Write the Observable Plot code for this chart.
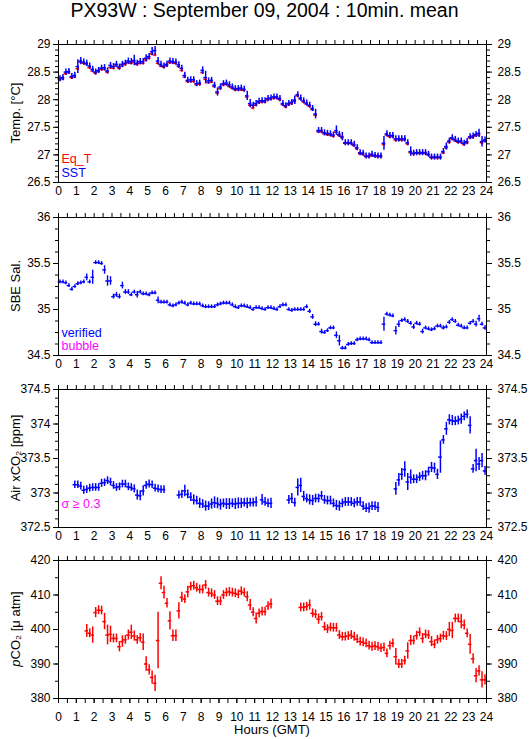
<!DOCTYPE html>
<html><head><meta charset="utf-8">
<script src="https://cdn.jsdelivr.net/npm/d3@7"></script>
<script src="https://cdn.jsdelivr.net/npm/@observablehq/plot@0.6"></script>
<style>
body{margin:0;background:#fff;}
#wrap{position:relative;width:529px;height:739px;overflow:hidden;font-family:"Liberation Sans",Arial,Helvetica,sans-serif;}
#title{position:absolute;left:0;top:-1px;width:529px;text-align:center;font-size:19.5px;line-height:22px;color:#000;}
</style></head>
<body><div id="wrap"><div id="title">PX93W : September 09, 2004 : 10min. mean</div></div>
<script>
// 10-minute slots over the day (slot centres, hours GMT)
const hours = Array.from({length: 144}, (_, i) => (i + 0.5) / 6);
const hourTicks = d3.range(0, 25);
const halfHourTicks = d3.range(0, 24.01, 0.5);

// Panel 1: temperatures
const sst = [
28.38,28.40,28.50,28.51,28.42,28.44,28.60,28.70,28.68,28.66,
28.61,28.55,28.50,28.53,28.57,28.58,28.52,28.62,28.60,28.64,
28.59,28.64,28.66,28.70,28.69,28.71,28.66,28.69,28.69,28.75,
28.78,28.87,28.89,28.70,28.64,28.61,28.64,28.70,28.69,28.68,
28.63,28.57,28.44,28.35,28.36,28.36,28.29,28.30,28.53,28.40,
28.34,28.35,28.26,28.14,28.23,28.29,28.30,28.27,28.23,28.20,
28.20,28.21,28.19,28.07,27.93,27.90,27.93,27.97,27.98,27.98,
28.02,28.03,28.05,28.05,28.02,27.93,27.89,27.93,27.95,27.99,
28.09,28.03,27.98,27.94,27.90,27.84,27.74,27.44,27.44,27.40,
27.39,27.38,27.36,27.44,27.37,27.33,27.22,27.22,27.22,27.19,
27.13,27.04,27.03,26.98,26.98,27.01,26.99,26.98,26.98,27.21,
27.38,27.35,27.35,27.29,27.29,27.29,27.29,27.22,27.06,27.03,
27.04,27.04,27.04,27.04,27.01,26.96,26.96,26.96,26.96,27.06,
27.15,27.25,27.31,27.28,27.25,27.25,27.21,27.24,27.33,27.34,
27.37,27.39,27.24,27.27];
const sstSd = [
.01,.01,.01,.01,.01,.01,.08,.02,.01,.01,
.01,.01,.01,.01,.01,.01,.01,.01,.01,.01,
.01,.01,.01,.01,.01,.05,.01,.01,.01,.02,
.01,.03,.03,.02,.01,.01,.01,.01,.01,.01,
.01,.01,.01,.01,.01,.01,.01,.01,.02,.07,
.01,.01,.01,.03,.01,.01,.01,.01,.01,.01,
.01,.01,.01,.04,.03,.01,.01,.01,.01,.01,
.01,.01,.01,.01,.01,.01,.01,.01,.01,.03,
.01,.01,.01,.01,.01,.01,.04,.01,.01,.01,
.01,.01,.01,.04,.01,.03,.01,.01,.01,.01,
.01,.01,.01,.01,.01,.01,.01,.01,.01,.08,
.01,.01,.01,.01,.01,.01,.01,.01,.04,.01,
.01,.01,.01,.01,.01,.01,.01,.01,.01,.01,
.02,.01,.01,.01,.01,.01,.01,.01,.01,.01,
.01,.03,.05,.01];
const eqT = [
28.36,28.38,28.47,28.49,28.40,28.41,28.56,28.68,28.66,28.64,
28.58,28.52,28.48,28.51,28.55,28.55,28.50,28.58,28.57,28.61,
28.57,28.61,28.64,28.67,28.66,28.68,28.64,28.66,28.66,28.72,
28.75,28.83,28.81,28.66,28.61,28.59,28.62,28.67,28.67,28.66,
28.60,28.53,28.41,28.33,28.33,28.33,28.27,28.28,28.49,28.37,
28.31,28.32,28.24,28.12,28.20,28.27,28.28,28.24,28.21,28.18,
28.18,28.18,28.17,28.05,27.90,27.85,27.90,27.95,27.96,27.96,
28.00,28.01,28.03,28.03,28.00,27.91,27.87,27.91,27.93,27.97,
28.07,28.01,27.96,27.92,27.88,27.82,27.72,27.42,27.42,27.38,
27.37,27.36,27.34,27.41,27.35,27.31,27.21,27.21,27.21,27.17,
27.11,27.02,27.01,26.97,26.97,26.99,26.98,26.97,26.97,27.19,
27.36,27.33,27.33,27.27,27.27,27.27,27.27,27.20,27.04,27.02,
27.03,27.03,27.03,27.03,27.00,26.95,26.95,26.95,26.95,27.04,
27.13,27.23,27.29,27.26,27.23,27.23,27.19,27.22,27.31,27.32,
27.35,27.36,27.22,27.25];

// Panel 2: SBE salinity
const sal = [
35.30,35.30,35.29,35.26,35.22,35.25,35.28,35.29,35.30,35.35,
35.30,35.35,35.51,35.51,35.50,35.43,35.31,35.31,35.14,35.16,
35.14,35.26,35.19,35.19,35.16,35.19,35.16,35.19,35.17,35.17,
35.16,35.18,35.18,35.10,35.08,35.08,35.08,35.05,35.04,35.05,
35.07,35.08,35.07,35.05,35.07,35.06,35.06,35.06,35.04,35.03,
35.03,35.03,35.03,35.05,35.06,35.07,35.07,35.07,35.05,35.03,
35.02,35.04,35.04,35.03,35.02,35.00,35.02,35.02,35.01,35.00,
35.02,35.02,35.01,35.00,35.03,35.05,35.05,35.00,34.99,35.00,
35.00,35.00,35.00,35.03,34.98,34.92,34.84,34.84,34.76,34.75,
34.77,34.80,34.80,34.72,34.66,34.58,34.58,34.62,34.63,34.63,
34.67,34.68,34.68,34.68,34.67,34.64,34.64,34.64,34.64,34.84,
34.95,34.94,34.93,34.77,34.84,34.88,34.89,34.87,34.85,34.81,
34.85,34.84,34.76,34.80,34.79,34.78,34.79,34.82,34.82,34.80,
34.81,34.86,34.89,34.87,34.83,34.82,34.80,34.80,34.85,34.87,
34.84,34.90,34.84,34.80];
const salSd = [
.004,.004,.004,.004,.006,.004,.004,.004,.004,.02,
.004,.06,.004,.004,.004,.03,.04,.03,.01,.01,
.01,.02,.01,.01,.004,.004,.02,.004,.004,.004,
.004,.004,.004,.02,.004,.004,.004,.004,.004,.004,
.004,.004,.004,.004,.004,.004,.004,.004,.004,.004,
.004,.004,.004,.004,.004,.004,.004,.004,.004,.004,
.004,.004,.004,.004,.004,.004,.004,.004,.004,.004,
.004,.004,.004,.004,.004,.004,.004,.004,.004,.004,
.004,.004,.004,.004,.006,.01,.01,.004,.01,.004,
.004,.004,.004,.02,.04,.004,.004,.004,.004,.004,
.004,.004,.004,.004,.004,.004,.004,.004,.004,.06,
.004,.004,.004,.03,.02,.004,.004,.004,.004,.01,
.004,.004,.01,.004,.004,.004,.004,.004,.004,.006,
.004,.004,.004,.004,.004,.004,.004,.004,.004,.004,
.015,.02,.004,.01];

// Panel 3: atmospheric xCO2 (null = no measurement)
const xco2 = [
null,null,null,null,null,373.12,373.12,373.10,373.04,373.05,
373.07,373.08,373.08,373.08,373.14,373.15,373.18,373.16,373.11,373.08,
373.09,373.13,373.13,373.09,373.08,373.06,372.97,372.96,373.03,373.11,
373.13,373.12,373.07,373.06,373.05,373.05,null,null,null,null,
372.97,372.98,373.03,372.98,372.94,372.90,372.89,372.85,372.84,372.81,
372.81,372.84,372.86,372.85,372.83,372.85,372.84,372.84,372.85,372.84,
372.85,372.85,372.86,372.85,372.86,372.86,372.87,null,372.90,372.87,
372.85,372.85,null,null,null,null,null,372.90,372.92,372.86,
373.08,373.11,372.95,372.92,372.90,372.89,372.92,372.92,372.96,372.90,
372.89,372.89,372.85,372.82,372.81,372.85,372.87,372.87,372.87,372.85,
372.87,372.87,372.81,372.78,372.78,372.81,372.81,372.79,null,null,
null,null,null,373.06,373.19,373.27,373.34,373.16,373.23,373.20,
373.20,373.23,373.25,373.25,373.31,373.37,373.36,373.27,373.52,373.77,
373.93,374.06,374.05,374.04,374.05,374.07,374.11,374.14,373.98,373.35,
373.47,373.42,373.47,373.32];
const xco2Sd = [
0,0,0,0,0,.012,.012,.012,.015,.012,
.012,.012,.012,.012,.015,.012,.012,.012,.012,.012,
.012,.012,.012,.012,.012,.015,.03,.03,.03,.012,
.015,.012,.012,.012,.012,.012,0,0,0,0,
.015,.015,.04,.02,.02,.03,.02,.03,.02,.03,
.02,.03,.04,.035,.035,.02,.035,.035,.02,.035,
.035,.03,.02,.035,.02,.02,.03,0,.035,.02,
.02,.03,0,0,0,0,0,.02,.03,.02,
.08,.06,.03,.02,.03,.03,.02,.02,.02,.02,
.02,.02,.02,.03,.03,.02,.02,.02,.02,.02,
.02,.02,.02,.02,.03,.02,.02,.03,0,0,
0,0,0,.05,.05,.04,.07,.08,.06,.02,
.02,.02,.02,.03,.02,.03,.03,.03,.19,.02,
.05,.03,.03,.02,.02,.03,.02,.02,.08,.02,
.12,.05,.06,.02];

// Panel 4: seawater pCO2 (null = no measurement)
const pco2 = [
null,null,null,null,null,null,null,null,null,399.6,
398.9,398.4,404.9,405.6,405.5,402.3,398.4,398.6,397.4,397.4,
395.0,396.5,397.0,398.4,399.2,398.1,397.0,397.6,396.3,390.0,
388.3,386.1,384.4,396.8,413.4,410.7,407.6,402.5,398.2,398.2,
405.4,409.3,408.8,410.9,412.4,412.7,412.1,411.6,411.6,412.9,
410.7,410.5,410.0,408.2,408.2,410.0,410.7,410.9,410.7,410.5,
410.2,411.1,410.7,409.5,407.1,405.0,403.2,404.7,405.2,405.2,
406.8,407.4,null,null,null,null,null,null,null,null,
null,406.4,406.4,406.6,407.1,404.7,404.4,403.0,403.7,400.8,
400.1,400.6,400.5,400.5,398.4,397.9,397.9,398.1,398.4,397.9,
397.2,396.5,396.3,396.0,395.3,395.0,395.2,395.0,394.6,394.8,
393.1,395.3,396.0,392.1,390.0,390.0,391.0,393.8,396.8,396.8,
398.2,399.2,397.4,398.6,398.4,396.5,395.7,397.0,397.4,398.2,
398.1,400.0,399.7,403.2,403.2,402.3,401.3,398.9,395.7,391.5,
386.6,388.0,385.4,385.4];
const pco2Sd = [
0,0,0,0,0,0,0,0,0,1.0,
.4,1.5,.6,.4,.4,1.5,2.0,1.5,.4,.4,
.6,.8,.4,.6,1.2,.6,.4,.4,1.5,1.2,
.6,1.0,1.5,7.3,1.0,1.0,.5,1.8,.8,.8,
1.5,.6,.4,.8,.4,.4,.4,.4,.4,.4,
.4,.4,.4,.4,.4,.4,.4,.4,.4,.4,
.4,.4,.4,.6,.7,.4,.7,.4,.4,.4,
.4,.6,0,0,0,0,0,0,0,0,
0,.4,.4,.4,.6,.4,.4,.6,.4,.4,
.4,.4,.4,.4,.4,.4,.4,.4,.4,.4,
.4,.4,.4,.4,.4,.4,.4,.4,.4,.4,
.4,.4,.4,1.5,.4,.4,.4,1.5,.6,.4,
.4,.4,.6,.4,.4,.6,.4,.4,.4,.4,
.4,1.2,1.5,.4,.4,1.2,.6,.4,2.0,.6,
1.2,.6,1.5,.6];

const FONT = '"Liberation Sans", Arial, Helvetica, sans-serif';
const BLUE = "#0000ff", RED = "#ff0000", MAGENTA = "#ff00ff";
const fmt = d => String(+d.toFixed(3));

function rows(vals, sds, sdConst) {
  return hours.map((t, i) => ({t, v: vals[i], sd: sds ? sds[i] : sdConst})).filter(d => d.v != null);
}
// each 10-min mean: horizontal bar spanning its slot, vertical bar = mean ± sd (plus a minimum arm)
function crossMarks(data, color, ext, sw = 1.5) {
  return [
    Plot.ruleY(data, {x1: d => d.t - 0.1, x2: d => d.t + 0.1, y: "v", stroke: color, strokeWidth: sw}),
    Plot.ruleX(data, {x: "t", y1: d => d.v + d.sd, y2: d => d.v - d.sd, stroke: color, strokeWidth: sw, insetTop: -ext, insetBottom: -ext})
  ];
}
const wrap = document.getElementById("wrap");

function makePanel(cfg) {
  const mb = cfg.marginBottom || 24;
  const svg = Plot.plot({
    width: 529, height: 12 + 138 + mb,
    marginLeft: 58, marginRight: 43, marginTop: 12, marginBottom: mb,
    style: {fontFamily: FONT, fontSize: "12px", color: "black", background: "transparent", overflow: "visible"},
    x: {domain: [0, 24]},
    y: {domain: cfg.yDomain},
    marks: [
      ...cfg.marks,
      Plot.frame({stroke: "black"}),
      Plot.axisY(cfg.majors, {anchor: "left", tickSize: 5, tickPadding: 3, tickFormat: fmt, label: null}),
      Plot.axisY(cfg.minors, {anchor: "left", tickSize: 3, tickFormat: () => "", label: null}),
      Plot.axisY(cfg.majors, {anchor: "right", tickSize: 5, tickPadding: 6, tickFormat: fmt, label: null}),
      Plot.axisY(cfg.minors, {anchor: "right", tickSize: 3, tickFormat: () => "", label: null}),
      Plot.axisX(halfHourTicks, {anchor: "top", tickSize: 5, tickFormat: () => "", label: null}),
      Plot.axisX(hourTicks, {anchor: "bottom", tickSize: cfg.bottomTicks ? 5 : 0, tickPadding: cfg.bottomTicks ? 8.5 : 4, tickFormat: fmt, label: null}),
      ...(cfg.bottomTicks ? [Plot.axisX(halfHourTicks, {anchor: "bottom", tickSize: 5, tickFormat: () => "", label: null})] : [])
    ]
  });
  svg.style.position = "absolute";
  svg.style.left = "0px";
  svg.style.top = cfg.top + "px";
  const s = d3.select(svg);
  const lab = s.append("text")
    .attr("transform", `translate(19.5,${12 + 69}) rotate(-90)`)
    .attr("text-anchor", "middle").attr("font-size", 13).attr("fill", "black")
    .attr("font-family", FONT);
  cfg.ylabel(lab);
  for (const L of (cfg.legend || [])) {
    s.append("text").attr("x", 61.5).attr("y", L.y).attr("fill", L.color)
      .attr("text-anchor", "start")
      .attr("font-size", 12.5).attr("font-family", FONT).text(L.text);
  }
  if (cfg.after) cfg.after(s);
  wrap.appendChild(svg);
}

// Panel 1
makePanel({
  top: 32, yDomain: [26.5, 29],
  majors: d3.range(26.5, 29.01, 0.5), minors: d3.range(26.5, 29.01, 0.1),
  marks: [...crossMarks(rows(eqT, null, 0.004), RED, 1.5), ...crossMarks(rows(sst, sstSd), BLUE, 2.5)],
  ylabel: t => t.text("Temp. [°C]"),
  legend: [{text: "Eq_T", color: RED, y: 130.7}, {text: "SST", color: BLUE, y: 144.7}]
});
// Panel 2
makePanel({
  top: 205, yDomain: [34.5, 36],
  majors: d3.range(34.5, 36.01, 0.5), minors: d3.range(34.5, 36.01, 0.125),
  marks: crossMarks(rows(sal, salSd), BLUE, 1.5, 1.4),
  ylabel: t => t.text("SBE Sal."),
  legend: [{text: "verified", color: BLUE, y: 131.5}, {text: "bubble", color: MAGENTA, y: 144.5}]
});
// Panel 3
makePanel({
  top: 377, yDomain: [372.5, 374.5],
  majors: d3.range(372.5, 374.51, 0.5), minors: d3.range(372.5, 374.51, 0.125),
  marks: crossMarks(rows(xco2, xco2Sd), BLUE, 3),
  ylabel: t => t.text("Air xCO₂ [ppm]"),
  legend: [{text: "σ ≥ 0.3", color: MAGENTA, y: 130.7}]
});
// Panel 4
makePanel({
  top: 548, yDomain: [380, 420], marginBottom: 41, bottomTicks: true,
  majors: d3.range(380, 420.1, 10), minors: d3.range(380, 420.1, 5),
  marks: crossMarks(rows(pco2, pco2Sd), RED, 3),
  ylabel: t => { t.append("tspan").attr("font-style", "italic").text("p"); t.append("tspan").text("CO₂ [μ atm]"); },
  after: s => s.append("text").attr("x", 272).attr("y", 186).attr("text-anchor", "middle")
    .attr("font-size", 13).attr("font-family", FONT).attr("fill", "black").text("Hours (GMT)")
});
</script>
</body></html>
